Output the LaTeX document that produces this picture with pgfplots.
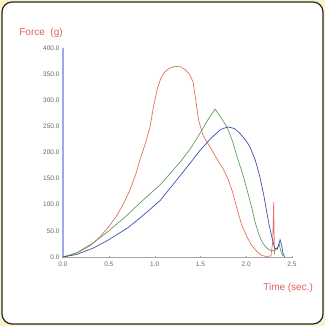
\documentclass[border=0pt]{standalone}
\usepackage{pgfplots}
\pgfplotsset{compat=1.18}
\usepackage{fontspec}
\setmainfont{Liberation Sans}
\definecolor{bgy}{HTML}{FBF3C8}
\definecolor{cred}{HTML}{E8705E}
\definecolor{cgreen}{HTML}{5FA060}
\definecolor{cblue}{HTML}{4050B0}
\definecolor{lblred}{HTML}{E06060}
\definecolor{yaxis}{HTML}{A0A8E8}
\begin{document}
\begin{tikzpicture}[x=1pt,y=1pt]
\useasboundingbox (0,0) rectangle (325,326);
\fill[bgy] (0,0) rectangle (325,326);
\draw[line width=1.2pt, draw=black!85, fill=white, rounded corners=10pt] (2,2) rectangle (323,324);
\begin{axis}[
  at={(63pt,69pt)}, anchor=origin,
  scale only axis, width=229pt, height=209pt,
  xmin=0, xmax=2.5, ymin=0, ymax=400,
  axis lines=left,
  x axis line style={-, draw=gray!70, line width=0.8pt},
  y axis line style={-, draw=yaxis, line width=1.8pt},
  xtick={0,0.5,1,1.5,2,2.5},
  ytick={0,50,100,150,200,250,300,350,400},
  tick style={draw=gray!70},
  major tick length=2pt,
  tick label style={font=\fontsize{6.5}{7}\selectfont, text=black!60},
  yticklabel style={xshift=1pt},
  /pgf/number format/.cd, fixed, fixed zerofill, precision=1, assume math mode=true,
  /pgfplots/.cd,
  xlabel={Time (sec.)},
  ylabel={Force\ \ (g)},
  xlabel style={font=\fontsize{10}{11}\selectfont, text=lblred, at={(axis description cs:0.983,-0.148)}, anchor=center},
  ylabel style={font=\fontsize{10}{11}\selectfont, text=lblred, rotate=-90, at={(axis description cs:-0.096,1.072)}, anchor=center},
  clip=false,
]
\addplot[cred, line width=0.7pt] coordinates {
 (0,0) (0.10,4) (0.19,11) (0.30,22) (0.40,38) (0.50,58) (0.59,80) (0.66,102) (0.73,128) (0.79,156) (0.84,186) (0.90,218) (0.95,249)
 (0.99,290) (1.03,322) (1.07,343) (1.11,354) (1.16,361) (1.22,365) (1.28,364) (1.33,359) (1.38,350) (1.42,335)
 (1.45,300) (1.48,262) (1.53,232) (1.60,212) (1.68,188) (1.75,168) (1.80,150) (1.85,125) (1.90,92)
 (1.95,62) (2.01,38) (2.06,22) (2.12,10) (2.17,3) (2.22,1) (2.27,2) (2.29,30) (2.30,105) (2.305,40) (2.31,5)
};
\addplot[cgreen, line width=0.7pt] coordinates {
 (0,0) (0.15,8) (0.33,27) (0.50,50) (0.70,80) (0.85,105) (1.06,138) (1.28,182) (1.39,207)
 (1.50,238) (1.58,262) (1.66,283) (1.72,268) (1.79,249) (1.85,222) (1.90,192)
 (1.96,160) (2.01,128) (2.06,95) (2.10,65) (2.14,42) (2.18,27) (2.22,18) (2.26,13) (2.31,12)
 (2.34,18) (2.36,25) (2.38,10) (2.40,2)
};
\addplot[cblue, line width=0.7pt] coordinates {
 (0,0) (0.15,5) (0.33,17) (0.50,33) (0.70,55) (0.85,76) (1.06,108) (1.28,156) (1.39,180)
 (1.50,205) (1.62,228) (1.72,244) (1.80,249) (1.87,246) (1.93,237) (2.00,222) (2.04,211)
 (2.10,185) (2.15,153) (2.19,120) (2.22,90) (2.25,62) (2.28,38) (2.31,17) (2.34,15)
 (2.37,33) (2.39,20) (2.40,8) (2.42,0)
};
\end{axis}
\end{tikzpicture}
\end{document}
